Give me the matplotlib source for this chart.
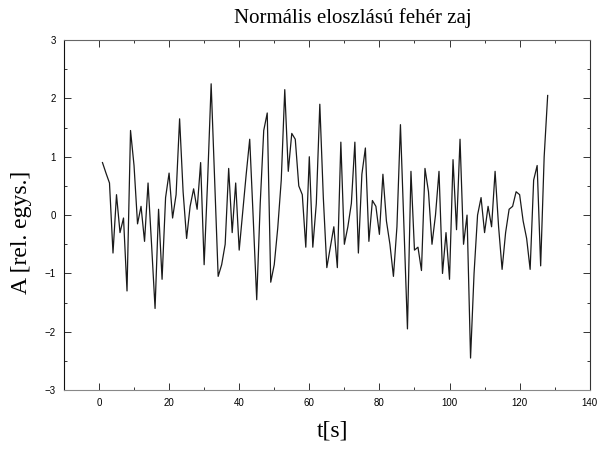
"""Normális eloszlású fehér zaj – recreated noise trace."""

import matplotlib

matplotlib.use("Agg")
import matplotlib.pyplot as plt
import numpy as np
from matplotlib.ticker import MultipleLocator

# sample times [s]
t = np.arange(1, 129)

# amplitude values (rel. units)
amplitude = [
    0.90, 0.72, 0.55, -0.65, 0.35, -0.30, -0.05, -1.30, 1.45, 0.85,
    -0.15, 0.15, -0.45, 0.55, -0.50, -1.60, 0.10, -1.10, 0.30, 0.72,
    -0.05, 0.35, 1.65, 0.40, -0.40, 0.15, 0.45, 0.10, 0.90, -0.85,
    0.60, 2.25, 0.60, -1.05, -0.85, -0.50, 0.80, -0.30, 0.55, -0.60,
    0.05, 0.70, 1.30, -0.05, -1.45, 0.20, 1.45, 1.75, -1.15, -0.85,
    -0.22, 0.60, 2.15, 0.75, 1.40, 1.30, 0.50, 0.35, -0.55, 1.00,
    -0.55, 0.20, 1.90, 0.30, -0.90, -0.55, -0.20, -0.90, 1.25, -0.50,
    -0.20, 0.20, 1.25, -0.65, 0.70, 1.15, -0.45, 0.25, 0.15, -0.33,
    0.70, -0.10, -0.50, -1.05, -0.20, 1.55, -0.20, -1.95, 0.75, -0.60,
    -0.55, -0.95, 0.80, 0.40, -0.50, 0.00, 0.75, -1.00, -0.30, -1.10,
    0.95, -0.25, 1.30, -0.50, 0.00, -2.45, -1.00, 0.00, 0.30, -0.30,
    0.15, -0.20, 0.75, -0.20, -0.93, -0.30, 0.10, 0.15, 0.40, 0.35,
    -0.10, -0.40, -0.93, 0.60, 0.85, -0.87, 1.00, 2.05,
]

x_ticks = [0, 20, 40, 60, 80, 100, 120, 140]
y_ticks = [-3, -2, -1, 0, 1, 2, 3]

serif = "Liberation Serif"
sans = "Liberation Sans"

fig = plt.figure(figsize=(6.03, 4.5), dpi=100)
ax = fig.add_axes([0.106, 0.133, 0.872, 0.778])

ax.plot(t, amplitude, color="#1a1a1a", linewidth=0.9)

ax.set_xlim(-10, 140)
ax.set_ylim(-3, 3)
ax.set_xticks(x_ticks)
ax.set_yticks(y_ticks)
ax.xaxis.set_minor_locator(MultipleLocator(10))
ax.yaxis.set_minor_locator(MultipleLocator(0.5))
ax.tick_params(which="both", direction="in", top=True, right=True,
               color="#333333", width=0.7)
ax.tick_params(which="major", length=5, labelsize=7)
ax.tick_params(which="minor", length=2.5)
for label in ax.get_xticklabels() + ax.get_yticklabels():
    label.set_fontfamily(sans)
ax.tick_params(axis="x", pad=6)
ax.tick_params(axis="y", pad=6)

ax.spines["left"].set_color("#111111")
ax.spines["right"].set_color("#333333")
ax.spines["top"].set_color("#666666")
ax.spines["bottom"].set_color("#888888")
for spine in ax.spines.values():
    spine.set_linewidth(0.8)

ax.set_title("Normális eloszlású fehér zaj", family=serif, fontsize=15,
             x=0.549, pad=12)
ax.set_xlabel("t[s]", family=serif, fontsize=17)
ax.xaxis.set_label_coords(0.511, -0.088)
ax.set_ylabel("A [rel. egys.]", family=serif, fontsize=17)
ax.yaxis.set_label_coords(-0.06, 0.45)

fig.savefig("out.png", dpi=100)
plt.close(fig)
